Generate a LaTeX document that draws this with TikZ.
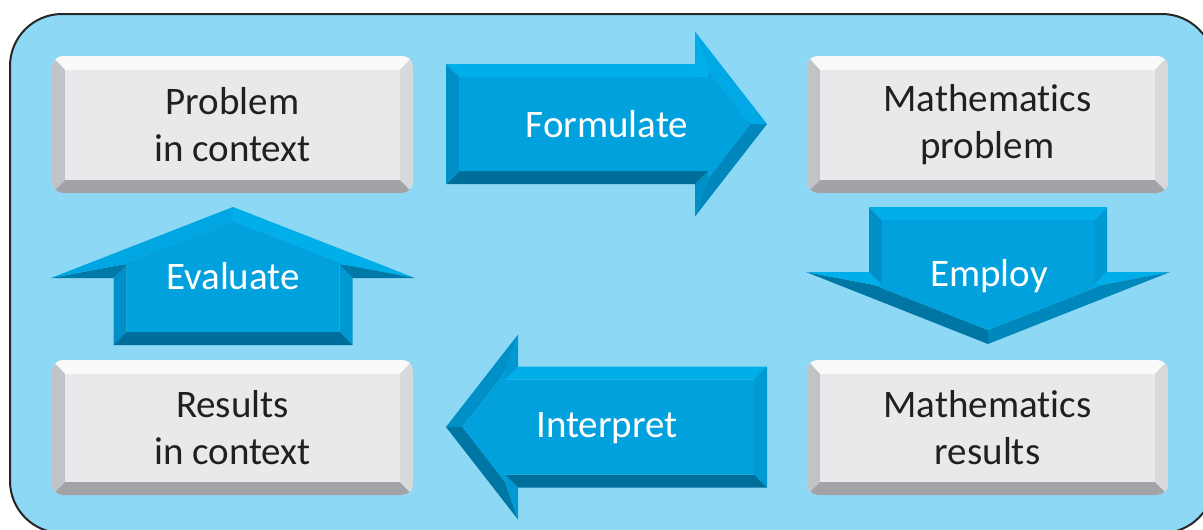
\documentclass[tikz,border=0pt]{standalone}
\usepackage{fontspec}
\setmainfont{Carlito}[Ligatures=NoCommon]
\definecolor{bgblue}{HTML}{8DD8F5}
\definecolor{aface}{HTML}{00A1DC}
\definecolor{atop}{HTML}{00AEEA}
\definecolor{abot}{HTML}{006E9B}
\definecolor{aleft}{HTML}{008FC6}
\definecolor{aright}{HTML}{0099D2}
\definecolor{aur}{HTML}{00A9E5}
\definecolor{adr}{HTML}{0087BB}
\definecolor{adl}{HTML}{0076A5}
\definecolor{aul}{HTML}{00A6E2}
\definecolor{ahbd}{HTML}{0078A8}
\definecolor{gface}{HTML}{E8E9EB}
\definecolor{gtop}{HTML}{FAFAFA}
\definecolor{gleft}{HTML}{C2C3C7}
\definecolor{gbot}{HTML}{A2A3A7}
\definecolor{gright}{HTML}{D8D9DB}
\definecolor{txt}{HTML}{231F20}
\def\ad{13}
\def\gd{13}
\newcommand\bevarrow[5]{%
  \begin{scope}[#1]
    \pgfmathsetmacro\aL{#3-#2}%
    \pgfmathsetmacro\aS{veclen(\aL,#5)}%
    \pgfmathsetmacro\qb{-#5+\ad*(\aS+#5)/\aL}%
    \pgfmathsetmacro\qa{#3-\ad*\aS/#5}%
    \coordinate (p1) at (0,{0-#4});
    \coordinate (p2) at (#2,{0-#4});
    \coordinate (p3) at (#2,{0-#5});
    \coordinate (p4) at (#3,0);
    \coordinate (p5) at (#2,#5);
    \coordinate (p6) at (#2,#4);
    \coordinate (p7) at (0,#4);
    \coordinate (q1) at (\ad,{\ad-#4});
    \coordinate (q2) at ({#2+\ad},{\ad-#4});
    \coordinate (q3) at ({#2+\ad},\qb);
    \coordinate (q4) at (\qa,0);
    \coordinate (q5) at ({#2+\ad},{0-(\qb)});
    \coordinate (q6) at ({#2+\ad},{#4-\ad});
    \coordinate (q7) at (\ad,{#4-\ad});
    \fill[bvA] (p1)--(p2)--(q2)--(q1)--cycle;
    \fill[bvB] (p2)--(p3)--(q3)--(q2)--cycle;
    \fill[bvC] (p3)--(p4)--(q4)--(q3)--cycle;
    \fill[bvD] (p4)--(p5)--(q5)--(q4)--cycle;
    \fill[bvE] (p5)--(p6)--(q6)--(q5)--cycle;
    \fill[bvF] (p6)--(p7)--(q7)--(q6)--cycle;
    \fill[bvG] (p7)--(p1)--(q1)--(q7)--cycle;
    \fill[aface] (q1)--(q2)--(q3)--(q4)--(q5)--(q6)--(q7)--cycle;
  \end{scope}}
\newcommand\gbox[6]{%
  \begin{scope}
    \clip[rounded corners=11pt] (#2,#3) rectangle (#4,#5);
    \fill[gface] (#2,#3) rectangle (#4,#5);
    \fill[gtop] (#2,#3) -- (#4,#3) -- ({#4-\gd},{#3+\gd+1}) -- ({#2+\gd},{#3+\gd+1}) -- cycle;
    \fill[gleft] (#2,#3) -- ({#2+\gd},{#3+\gd+1}) -- ({#2+\gd},{#5-\gd}) -- (#2,#5) -- cycle;
    \fill[gbot] (#2,#5) -- ({#2+\gd},{#5-\gd}) -- ({#4-\gd},{#5-\gd}) -- (#4,#5) -- cycle;
    \fill[gright] (#4,#3) -- ({#4-\gd},{#3+\gd+1}) -- ({#4-\gd},{#5-\gd}) -- (#4,#5) -- cycle;
    \fill[gface] ({#2+\gd},{#3+\gd+1}) rectangle ({#4-\gd},{#5-\gd});
  \end{scope}
  \node[boxtext] (#1) at ({(#2+#4)/2},{(#3+#5)/2}) {#6};}
\begin{document}
\begin{tikzpicture}[x=1pt,y=-1pt,
  boxtext/.style={font=\fontsize{39}{47}\selectfont, text=txt, align=center, inner sep=0pt},
  arrtext/.style={font=\fontsize{39}{47}\selectfont, text=white, inner sep=0pt}]
\useasboundingbox (0,0) rectangle (1203,530);
\clip (0,0) rectangle (1203,530);
\draw[fill=bgblue, draw=black!85, line width=2pt, rounded corners=52pt] (10,14) rectangle (1214,533);
% boxes
\gbox{pic}{52}{56}{413}{193}{Problem\\in context}
\gbox{mp}{807}{56}{1168}{193}{Mathematics\\problem}
\gbox{ric}{52}{360}{413}{495}{Results\\in context}
\gbox{mr}{807}{360}{1168}{495}{Mathematics\\results}
% Formulate (right)
\bevarrow{shift={(446,124)}, bvA/.style={fill=atop}, bvB/.style={fill=atop}, bvC/.style={fill=aur}, bvD/.style={fill=adr}, bvE/.style={fill=aleft}, bvF/.style={fill=abot}, bvG/.style={fill=aleft}}{249}{321}{60}{92.5}
\node[arrtext] (formulate) at (607,124) {Formulate};
% Employ (down)
\bevarrow{shift={(988,207)}, rotate=-90, bvA/.style={fill=aright}, bvB/.style={fill=atop}, bvC/.style={fill=adr}, bvD/.style={fill=adl}, bvE/.style={fill=atop}, bvF/.style={fill=aleft}, bvG/.style={fill=atop}}{65}{137}{119}{182}
\node[arrtext] (employ) at (989,276) {Employ};
% Interpret (left)
\bevarrow{shift={(767,427)}, xscale=-1, bvA/.style={fill=atop}, bvB/.style={fill=aright}, bvC/.style={fill=aleft}, bvD/.style={fill=adl}, bvE/.style={fill=aright}, bvF/.style={fill=abot}, bvG/.style={fill=aright}}{249}{321}{60.5}{92.5}
\node[arrtext] (interpret) at (607,428) {Interpret};
% Evaluate (up)
\bevarrow{shift={(233,345)}, rotate=90, bvA/.style={fill=aleft}, bvB/.style={fill=ahbd}, bvC/.style={fill=aul}, bvD/.style={fill=atop}, bvE/.style={fill=ahbd}, bvF/.style={fill=aright}, bvG/.style={fill=abot}}{67}{138}{119.5}{182}
\node[arrtext] (evaluate) at (233,276) {Evaluate};
\end{tikzpicture}
\end{document}
